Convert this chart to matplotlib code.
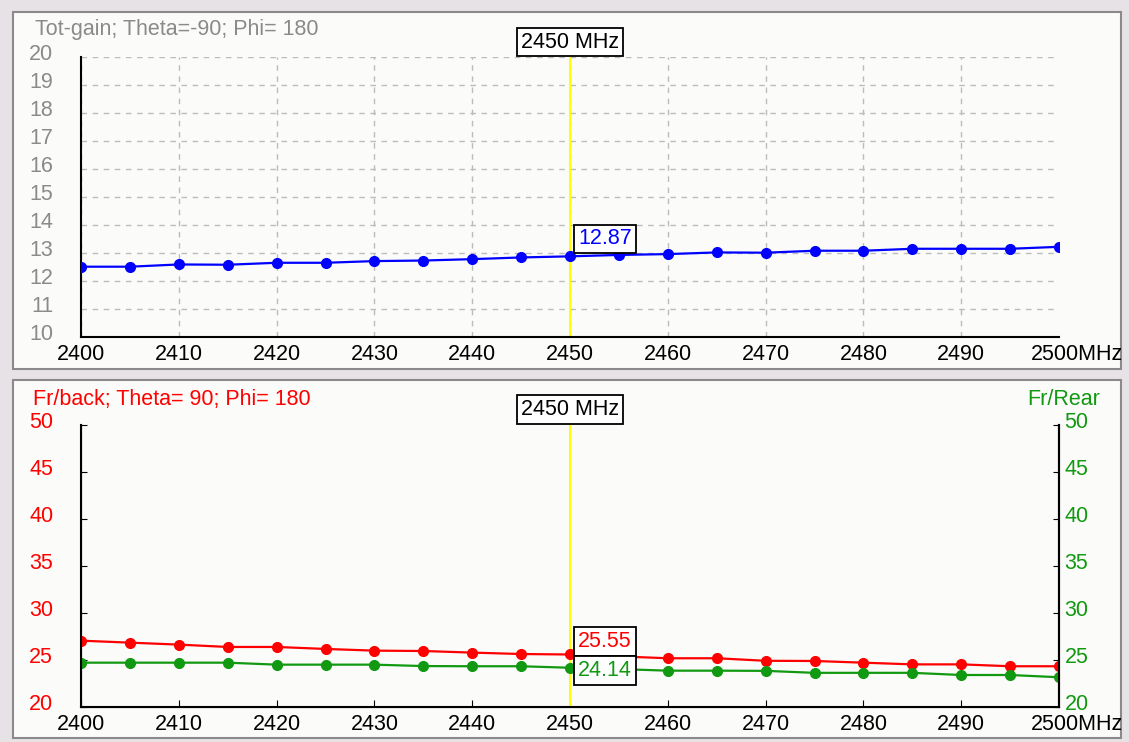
import numpy as np
import matplotlib.pyplot as plt
import matplotlib.transforms as mtransforms
from matplotlib.patches import Rectangle

plt.rcParams['font.family'] = ['Liberation Sans', 'DejaVu Sans']

# data
freq = [2400, 2405, 2410, 2415, 2420, 2425, 2430, 2435, 2440, 2445, 2450,
        2455, 2460, 2465, 2470, 2475, 2480, 2485, 2490, 2495, 2500]
tot_gain = [12.50, 12.50, 12.58, 12.57, 12.64, 12.64, 12.70, 12.72, 12.77, 12.83, 12.87,
            12.92, 12.95, 13.01, 13.00, 13.07, 13.07, 13.14, 13.14, 13.14, 13.21]
fr_back = [27.02, 26.81, 26.60, 26.35, 26.35, 26.14, 25.96, 25.92, 25.75, 25.60, 25.55,
           25.35, 25.15, 25.15, 24.88, 24.86, 24.68, 24.50, 24.50, 24.30, 24.30]
fr_rear = [24.68, 24.68, 24.68, 24.68, 24.47, 24.47, 24.47, 24.32, 24.30, 24.30, 24.14,
           24.00, 23.83, 23.83, 23.81, 23.60, 23.60, 23.60, 23.37, 23.37, 23.13]
xticks = list(range(2400, 2500, 10))
marker_f = 2450

W, H = 1129, 742
fig = plt.figure(figsize=(W / 100, H / 100), dpi=100, facecolor='#e6e2e6')

def px(x0, y0, x1, y1):
    return [x0 / W, 1 - y1 / H, (x1 - x0) / W, (y1 - y0) / H]

# panel backgrounds
for (x0, y0, x1, y1) in [(13, 12, 1121, 369), (13, 380, 1121, 738)]:
    fig.patches.append(Rectangle((x0 / W, 1 - y1 / H), (x1 - x0) / W, (y1 - y0) / H,
                                 transform=fig.transFigure, facecolor='#fbfcfa',
                                 edgecolor='#8a8a8a', lw=1.5, zorder=-10))

fs = 15.5
blue, red, green, grey = '#0000ff', '#ff0000', '#119911', '#8a8a8a'
box = dict(boxstyle='square,pad=0.18', fc='white', ec='black', lw=1.3)

# ---------- top panel ----------
ax1 = fig.add_axes(px(81, 56.7, 1059, 336.7))
ax1.patch.set_alpha(0)
ax1.plot(freq, tot_gain, color=blue, lw=1.6, marker='o', ms=7, zorder=3)
ax1.set_xlim(2400, 2500)
ax1.set_ylim(10, 20)
ax1.set_yticks(range(10, 21))
ax1.set_xticks(xticks)
ax1.grid(True, ls=(0, (4, 4)), color='#bcbcbc', lw=1)
ax1.tick_params(axis='y', length=0, pad=20, labelsize=fs, labelcolor=grey)
ax1.tick_params(axis='x', length=0, pad=5, labelsize=fs)
for s in ['top', 'right']:
    ax1.spines[s].set_visible(False)
for s in ['left', 'bottom']:
    ax1.spines[s].set_linewidth(1.5)
ax1.axvline(marker_f, color='#ffff00', lw=1.5, zorder=2)
ax1.annotate('2500MHz', (2500, 10), xytext=(-20, -5), textcoords='offset points',
             ha='left', va='top', fontsize=fs)
ax1.text(35 / W, 1 - 30 / H, 'Tot-gain; Theta=-90; Phi= 180', transform=fig.transFigure,
         color=grey, fontsize=fs, va='center', ha='left')
ax1.annotate('2450 MHz', (marker_f, 20), xytext=(0, 3), textcoords='offset points',
             ha='center', va='bottom', fontsize=fs, bbox=box)
ax1.annotate('12.87', (marker_f, tot_gain[10]), xytext=(6, 5), textcoords='offset points',
             ha='left', va='bottom', fontsize=fs, color=blue, bbox=box)

# ---------- bottom panel ----------
ax2 = fig.add_axes(px(81, 424.5, 1059, 706.7))
ax2.patch.set_alpha(0)
ax2.plot(freq, fr_back, color=red, lw=1.6, marker='o', ms=7, zorder=3)
ax2.plot(freq, fr_rear, color=green, lw=1.6, marker='o', ms=7, zorder=3)
ax2.set_xlim(2400, 2500)
ax2.set_ylim(20, 50)
ax2.set_yticks(range(20, 51, 5))
ax2.set_xticks(xticks)
ax2.tick_params(axis='y', direction='in', length=4, pad=20, labelsize=fs, labelcolor=red)
ax2.tick_params(axis='x', direction='in', length=5, pad=5, labelsize=fs)
ax2.spines['top'].set_visible(False)
for s in ['left', 'bottom', 'right']:
    ax2.spines[s].set_linewidth(1.5)

ax3 = ax2.twinx()
ax3.set_ylim(20, 50)
ax3.set_yticks(range(20, 51, 5))
ax3.tick_params(axis='y', direction='in', length=4, pad=4, labelsize=fs, labelcolor=green)
ax3.spines['top'].set_visible(False)
ax3.spines['right'].set_linewidth(1.5)

ax2.axvline(marker_f, color='#ffff00', lw=1.5, zorder=2)
ax2.annotate('2500MHz', (2500, 20), xytext=(-20, -5), textcoords='offset points',
             ha='left', va='top', fontsize=fs)
ax2.text(33 / W, 1 - 400 / H, 'Fr/back; Theta= 90; Phi= 180', transform=fig.transFigure,
         color=red, fontsize=fs, va='center', ha='left')
ax2.text(1100 / W, 1 - 400 / H, 'Fr/Rear', transform=fig.transFigure,
         color=green, fontsize=fs, va='center', ha='right')
ax2.annotate('2450 MHz', (marker_f, 50), xytext=(0, 3), textcoords='offset points',
             ha='center', va='bottom', fontsize=fs, bbox=box)
ax2.annotate('25.55', (marker_f, fr_back[10]), xytext=(6, 2), textcoords='offset points',
             ha='left', va='bottom', fontsize=fs, color=red, bbox=box)
ax2.annotate('24.14', (marker_f, fr_rear[10]), xytext=(6, -2), textcoords='offset points',
             ha='left', va='center', fontsize=fs, color=green, bbox=box)

# y labels sit a few pixels above their ticks in the original
lift = mtransforms.ScaledTranslation(0, 5 / 100, fig.dpi_scale_trans)
for a in (ax1, ax2, ax3):
    for lab in a.get_yticklabels():
        lab.set_transform(lab.get_transform() + lift)

fig.savefig('out.png', dpi=100, facecolor=fig.get_facecolor())
